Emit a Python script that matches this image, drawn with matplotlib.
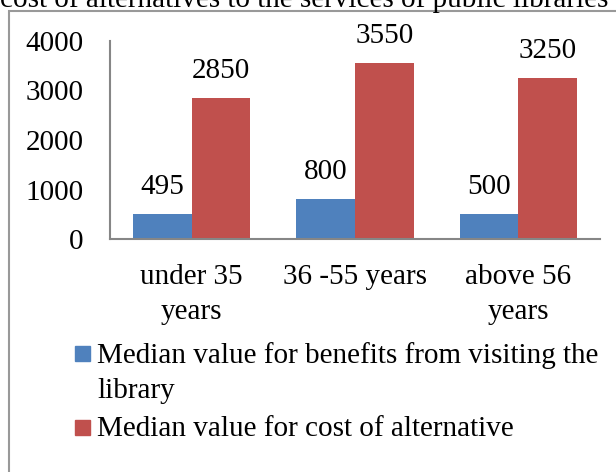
import matplotlib
matplotlib.use("Agg")
import matplotlib.pyplot as plt
from matplotlib.patches import Rectangle
import numpy as np

categories = ["under 35\nyears", "36 -55 years", "above 56\nyears"]
benefits = [495, 800, 500]
alternative = [2850, 3550, 3250]
series_names = ["Median value for benefits from visiting the\nlibrary",
                "Median value for cost of alternative"]
yticks = [0, 1000, 2000, 3000, 4000]

blue = "#4F81BD"
red = "#C0504D"
grey = "#868686"
fs = 21

plt.rcParams["font.family"] = ["Liberation Serif", "DejaVu Serif"]

fig = plt.figure(figsize=(6.16, 4.72), dpi=100)
ax = fig.add_axes([110 / 616, 1 - 239 / 472, 490 / 616, 198 / 472])

x = np.arange(len(categories))
w = 0.36
b1 = ax.bar(x - w / 2, benefits, w, color=blue, label=series_names[0])
b2 = ax.bar(x + w / 2, alternative, w, color=red, label=series_names[1])

for bars, vals in [(b1, benefits), (b2, alternative)]:
    for rect, v in zip(bars, vals):
        ax.annotate(str(v), (rect.get_x() + rect.get_width() / 2, v),
                    xytext=(0, 19.5), textcoords="offset points",
                    ha="center", va="center", fontsize=fs)

ax.set_xlim(-0.5, 2.5)
ax.set_ylim(0, 4000)
ax.set_yticks(yticks)
ax.set_xticks(x)
ax.set_xticklabels(categories, linespacing=1.45)
ax.tick_params(axis="y", length=0, pad=19, labelsize=fs)
ax.tick_params(axis="x", length=0, pad=18, labelsize=fs)
for s in ["top", "right"]:
    ax.spines[s].set_visible(False)
for s in ["left", "bottom"]:
    ax.spines[s].set_color(grey)
    ax.spines[s].set_linewidth(1.5)

# legend below the plot, drawn by hand so the squares sit on the first line
key_y = [353, 427]
for name, col, yy in zip(series_names, [blue, red], key_y):
    fig.patches.append(Rectangle((75 / 616, 1 - (yy + 7.5) / 472), 15 / 616, 15 / 472,
                                 transform=fig.transFigure, color=col))
    fig.text(97 / 616, 1 - (yy - 11) / 472, name, ha="left", va="top",
             fontsize=fs, linespacing=1.45)

# cut-off caption at the top and the outer border
fig.text(0, 1 - 7 / 472, "cost of alternatives to the services of public libraries",
         ha="left", va="baseline", fontsize=fs)
fig.patches.append(Rectangle((9 / 616, -0.1), 1.2, 1.1 - 11 / 472,
                             transform=fig.transFigure, fill=False,
                             edgecolor="#999999", linewidth=1.5))

fig.savefig("out.png", dpi=100)
